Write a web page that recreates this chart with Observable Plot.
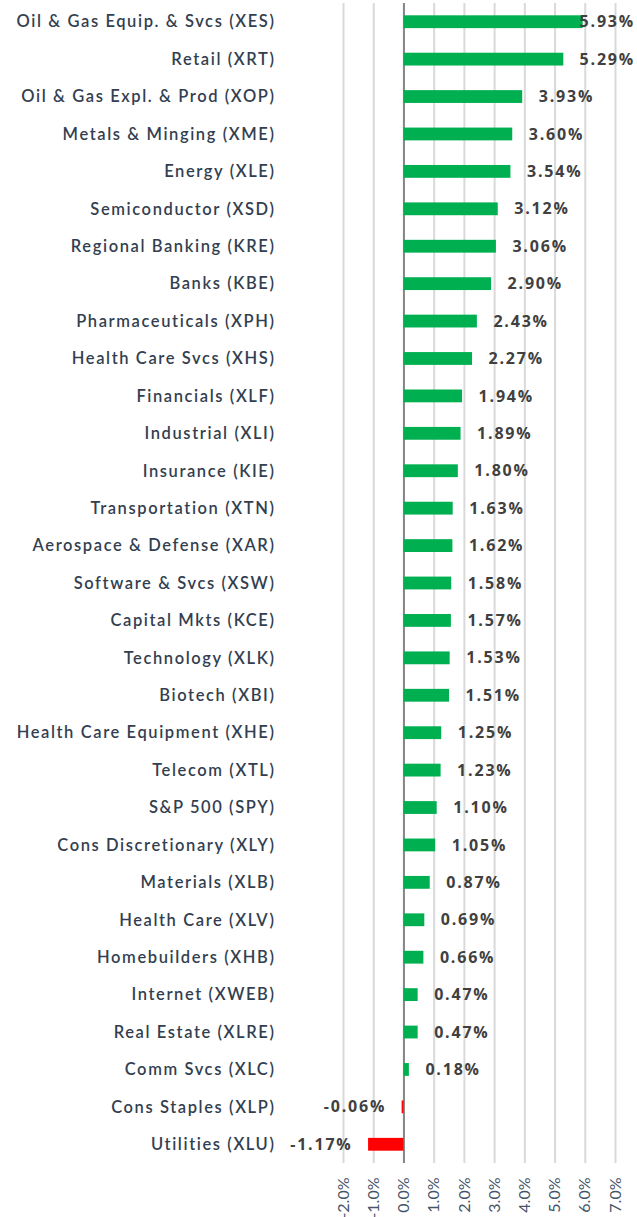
<!DOCTYPE html>
<html>
<head>
<meta charset="utf-8">
<script src="https://cdn.jsdelivr.net/npm/d3@7"></script>
<script src="https://cdn.jsdelivr.net/npm/@observablehq/plot@0.6"></script>
<style>
  html, body { margin: 0; padding: 0; background: #fff; }
  #chart svg { display: block; }
  .ylab text { letter-spacing: 1.6px; }
  .vlab text { letter-spacing: 1.8px; }
</style>
</head>
<body>
<div id="chart"></div>
<script>
const categories = [
  "Oil & Gas Equip. & Svcs (XES)",
  "Retail (XRT)",
  "Oil & Gas Expl. & Prod (XOP)",
  "Metals & Minging (XME)",
  "Energy (XLE)",
  "Semiconductor (XSD)",
  "Regional Banking (KRE)",
  "Banks (KBE)",
  "Pharmaceuticals (XPH)",
  "Health Care Svcs (XHS)",
  "Financials (XLF)",
  "Industrial (XLI)",
  "Insurance (KIE)",
  "Transportation (XTN)",
  "Aerospace & Defense (XAR)",
  "Software & Svcs (XSW)",
  "Capital Mkts (KCE)",
  "Technology (XLK)",
  "Biotech (XBI)",
  "Health Care Equipment (XHE)",
  "Telecom (XTL)",
  "S&P 500 (SPY)",
  "Cons Discretionary (XLY)",
  "Materials (XLB)",
  "Health Care (XLV)",
  "Homebuilders (XHB)",
  "Internet (XWEB)",
  "Real Estate (XLRE)",
  "Comm Svcs (XLC)",
  "Cons Staples (XLP)",
  "Utilities (XLU)"
];
const values = [
  5.93, 5.29, 3.93, 3.60, 3.54, 3.12, 3.06, 2.90, 2.43, 2.27,
  1.94, 1.89, 1.80, 1.63, 1.62, 1.58, 1.57, 1.53, 1.51, 1.25,
  1.23, 1.10, 1.05, 0.87, 0.69, 0.66, 0.47, 0.47, 0.18, -0.06, -1.17
];
const xTicks = [-2, -1, 0, 1, 2, 3, 4, 5, 6, 7];

const data = categories.map((c, i) => ({category: c, value: values[i]}));
const fmt = v => v.toFixed(2) + "%";

const plot = Plot.plot({
  width: 637,
  height: 1217,
  marginTop: 3,
  marginBottom: 54,
  marginLeft: 343,
  marginRight: 22,
  style: {fontFamily: "Lato, sans-serif", background: "#fff"},
  x: {domain: [-2, 7], ticks: xTicks},
  y: {domain: categories, padding: 0, round: false},
  marks: [
    Plot.gridX(xTicks, {stroke: "#d9d9d9", strokeOpacity: 1, strokeWidth: 2}),
    Plot.ruleX([0], {stroke: "#868686", strokeWidth: 2}),
    Plot.barX(data, {
      x: "value", y: "category",
      fill: d => d.value >= 0 ? "#00b050" : "#ff0000",
      insetTop: 12.3, insetBottom: 12.3
    }),
    Plot.text(data.filter(d => d.value >= 0), {
      x: "value", y: "category", text: d => fmt(d.value),
      textAnchor: "start", dx: 16, fontSize: 16, fontWeight: 700,
      fontFamily: "'Open Sans', sans-serif", fill: "#404040", className: "vlab"
    }),
    Plot.text(data.filter(d => d.value < 0), {
      x: "value", y: "category", text: d => fmt(d.value),
      textAnchor: "end", dx: -16, fontSize: 16, fontWeight: 700,
      fontFamily: "'Open Sans', sans-serif", fill: "#404040", className: "vlab"
    }),
    Plot.axisY({
      tickSize: 0, tickPadding: 68, label: null,
      fontSize: 16.5, fontWeight: 600, fill: "#333f50", className: "ylab"
    }),
    Plot.axisX({
      ticks: xTicks, tickFormat: d => d.toFixed(1) + "%",
      tickRotate: -90, tickSize: 0, tickPadding: 14, label: null,
      fontSize: 16, fill: "#44546a"
    })
  ]
});

document.getElementById("chart").appendChild(plot);

// keep value labels inside the chart's right edge, as the original does
const svgRect = plot.getBoundingClientRect();
plot.querySelectorAll(".vlab text").forEach(el => {
  const r = el.getBoundingClientRect();
  const over = (r.right - svgRect.left) - 635;
  if (over > 0) {
    const prev = el.getAttribute("transform") || "";
    el.setAttribute("transform", `translate(${-over},0) ${prev}`.trim());
  }
});
</script>
</body>
</html>
